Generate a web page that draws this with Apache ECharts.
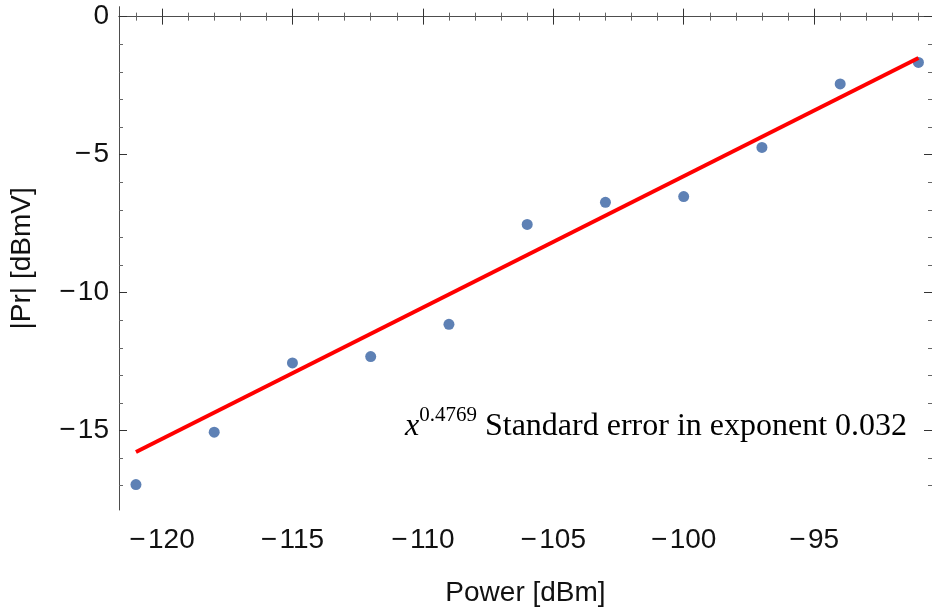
<!DOCTYPE html>
<html>
<head>
<meta charset="utf-8">
<script src="https://cdn.jsdelivr.net/npm/echarts@6.0.0/dist/echarts.min.js"></script>
<style>
  html, body { margin: 0; padding: 0; background: #fff; }
  #chart { width: 932px; height: 612px; }
</style>
</head>
<body>
<div id="chart"></div>
<script>
// measured points
const powerDbm = [-121, -118, -115, -112, -109, -106, -103, -100, -97, -94, -91]
const prDbmv = [-16.96, -15.06, -12.55, -12.32, -11.15, -7.53, -6.73, -6.52, -4.74, -2.44, -1.66]

// fitted line (ends)
const fitX = [-121, -91]
const fitY = [-15.78, -1.50]

// tick values
const xMajor = [-120, -115, -110, -105, -100, -95]
const yMajor = [0, -5, -10, -15]
const xRange = [-121.65, -90.48]
const yRange = [-17.88, 0.36]

const sans = 'Liberation Sans'
const serif = 'Liberation Serif'
const frameColor = '#4d4d4d'

// minor ticks every 1 unit, skipping the labelled ones
const minorOf = (lo, hi, major) => {
  const out = []
  for (let v = Math.ceil(lo); v <= Math.floor(hi); v++) {
    if (major.indexOf(v) < 0) out.push(v)
  }
  return out
}
const xMinor = minorOf(xRange[0], xRange[1], xMajor)
const yMinor = minorOf(yRange[0], yRange[1], yMajor)

const fmt = v => v < 0 ? '\u2212\u200a' + Math.abs(v) : String(v)

function frameAxis (position, range, ticks, len, color, opts) {
  return Object.assign({
    type: 'value',
    position: position,
    min: range[0],
    max: range[1],
    axisLine: { show: false, lineStyle: { color: frameColor, width: 1 } },
    axisTick: { inside: true, length: len, customValues: ticks, lineStyle: { color: color, width: 1 } },
    axisLabel: { show: false },
    splitLine: { show: false }
  }, opts || {})
}

const labelStyle = { fontFamily: sans, fontSize: 28, color: '#111' }

const option = {
  backgroundColor: '#fff',
  animation: false,
  grid: { left: 118, right: 0, top: 6.7, bottom: 100.5, containLabel: false },
  title: {
    left: 400,
    top: 400,
    text: '{x|x}{sup|0.4769}{n| Standard error in exponent 0.032}',
    textStyle: {
      fontWeight: 'normal',
      rich: {
        x: { fontFamily: serif, fontStyle: 'italic', fontWeight: 'normal', fontSize: 32, color: '#000', verticalAlign: 'bottom', lineHeight: 38 },
        sup: { fontFamily: serif, fontWeight: 'normal', fontSize: 21, color: '#000', verticalAlign: 'top', lineHeight: 38 },
        n: { fontFamily: serif, fontWeight: 'normal', fontSize: 32, color: '#000', verticalAlign: 'bottom', lineHeight: 38 }
      }
    }
  },
  xAxis: [
    frameAxis('bottom', xRange, xMajor, 8, '#333', {
      axisLine: { show: true, lineStyle: { color: frameColor, width: 1 } },
      axisLabel: Object.assign({ show: true, customValues: xMajor, formatter: fmt, margin: 16 }, labelStyle),
      name: 'Power [dBm]',
      nameLocation: 'middle',
      nameGap: 69,
      nameTextStyle: { fontFamily: sans, fontSize: 28, color: '#111' }
    }),
    frameAxis('bottom', xRange, xMinor, 4, '#666'),
    frameAxis('top', xRange, xMajor, 8, '#333', {
      axisLine: { show: true, lineStyle: { color: frameColor, width: 1 } }
    }),
    frameAxis('top', xRange, xMinor, 4, '#666')
  ],
  yAxis: [
    frameAxis('left', yRange, yMajor, 8, '#333', {
      axisLine: { show: true, lineStyle: { color: frameColor, width: 1 } },
      axisLabel: Object.assign({ show: true, customValues: yMajor, formatter: fmt, margin: 10 }, labelStyle),
      name: '|Pr| [dBmV]',
      nameLocation: 'middle',
      nameGap: 83,
      nameTextStyle: { fontFamily: sans, fontSize: 28, color: '#111' }
    }),
    frameAxis('left', yRange, yMinor, 4, '#666'),
    frameAxis('right', yRange, yMajor, 8, '#333', {
      axisLine: { show: true, lineStyle: { color: frameColor, width: 1 } }
    }),
    frameAxis('right', yRange, yMinor, 4, '#666')
  ],
  series: [
    {
      type: 'scatter',
      xAxisIndex: 0,
      yAxisIndex: 0,
      symbolSize: 11,
      itemStyle: { color: '#5E81B5', opacity: 1 },
      data: powerDbm.map((x, i) => [x, prDbmv[i]]),
      z: 2
    },
    {
      type: 'line',
      xAxisIndex: 0,
      yAxisIndex: 0,
      showSymbol: false,
      symbol: 'none',
      lineStyle: { color: '#FF0000', width: 4 },
      data: fitX.map((x, i) => [x, fitY[i]]),
      z: 3
    }
  ]
}

const chart = echarts.init(document.getElementById('chart'), null, { renderer: 'canvas' })
chart.setOption(option)
</script>
</body>
</html>
